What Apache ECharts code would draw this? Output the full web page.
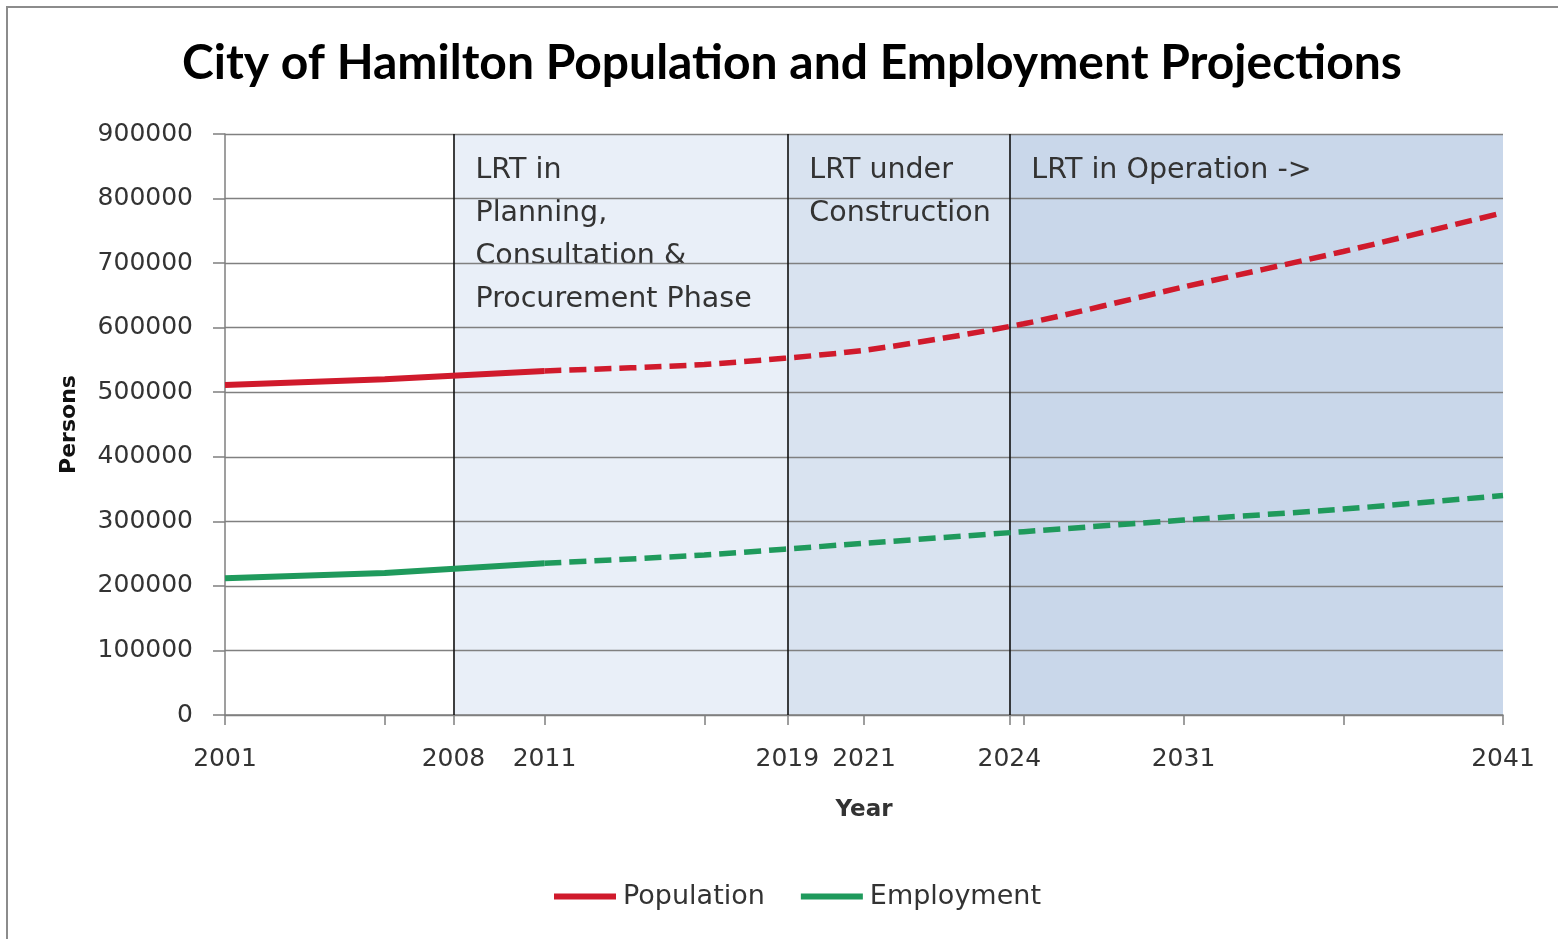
<!DOCTYPE html>
<html>
<head>
<meta charset="utf-8">
<script src="https://cdn.jsdelivr.net/npm/echarts@6/dist/echarts.min.js"></script>
<style>
  html, body { margin: 0; padding: 0; background: #ffffff; }
  #chart { width: 1558px; height: 939px; }
</style>
</head>
<body>
<div id="chart"></div>
<script>
// ---- data ----
const years = [2001, 2006, 2011, 2016, 2021, 2026, 2031, 2036, 2041];
const population = [511000, 520000, 533000, 543000, 565000, 606000, 663000, 718000, 778000];
const employment = [212000, 220000, 235000, 248000, 266000, 284000, 302000, 319000, 340000];
const lastActualYear = 2011;

// axis ticks
const tickYears = [2001, 2006, 2011, 2016, 2021, 2026, 2031, 2036, 2041];
const labelYears = [2001, 2011, 2021, 2031, 2041];
const yMin = 0, yMax = 900000, yStep = 100000;

// LRT phase boundaries (label text, and where the boundary is drawn on the year scale)
const phaseLabels = ['2008', '2019', '2024'];
const phasePositions = [2008.15, 2018.6, 2025.55];
const phaseTexts = [
  'LRT in\nPlanning,\nConsultation &\nProcurement Phase',
  'LRT under\nConstruction',
  'LRT in Operation ->'
];
const phaseColors = ['#e9eff8', '#d9e3f0', '#c9d7ea'];

// ---- build ----
const pts = (vals) => years.map((y, i) => [y, vals[i]]);
const actual = (vals) => pts(vals).filter(p => p[0] <= lastActualYear);
const projected = (vals) => pts(vals).filter(p => p[0] >= lastActualYear);

const axisLabelValues = labelYears.concat(phasePositions).sort((a, b) => a - b);
const labelText = (v) => {
  const k = phasePositions.indexOf(v);
  return k >= 0 ? phaseLabels[k] : String(v);
};

const bandEnds = phasePositions.concat([2041]);
const markAreaData = phaseTexts.map((t, i) => [
  { xAxis: bandEnds[i], itemStyle: { color: phaseColors[i] },
    label: { formatter: t } },
  { xAxis: bandEnds[i + 1] }
]);

const RED = '#d01a2c';
const GREEN = '#1f9a5c';
const FONT = 'DejaVu Sans';

const chart = echarts.init(document.getElementById('chart'));
chart.setOption({
  backgroundColor: '#ffffff',
  animation: false,
  title: {
    text: 'City of Hamilton Population and Employment Projections',
    left: 177, top: 35,
    textStyle: { fontFamily: 'Lato', fontWeight: 'bold', fontSize: 48, color: '#000' }
  },
  graphic: [{
    type: 'rect', silent: true, z: 100,
    shape: { x: 7, y: 7, width: 1700, height: 1100 },
    style: { fill: 'none', stroke: '#8c8c8c', lineWidth: 2 }
  }],
  legend: {
    data: [{ name: 'Population', icon: 'rect' }, { name: 'Employment', icon: 'rect' }],
    top: 878, left: 549,
    itemWidth: 62, itemHeight: 6, itemGap: 36,
    textStyle: { fontFamily: FONT, fontSize: 27, color: '#333', padding: [0, 0, 0, 2] }
  },
  grid: { left: 225, right: 55, top: 134, bottom: 224, containLabel: false },
  xAxis: {
    type: 'value', min: 2001, max: 2041, z: 3,
    name: 'Year', nameLocation: 'middle', nameGap: 84,
    nameTextStyle: { fontFamily: FONT, fontWeight: 'bold', fontSize: 23, color: '#333' },
    axisLine: { show: true, lineStyle: { color: '#7f7f7f', width: 1.5 } },
    axisTick: { show: true, customValues: tickYears.concat(phasePositions), length: 10,
                lineStyle: { color: '#7f7f7f', width: 1.5 } },
    axisLabel: { customValues: axisLabelValues, formatter: labelText, margin: 32,
                 fontFamily: FONT, fontSize: 25, color: '#333' },
    splitLine: { show: false }
  },
  yAxis: {
    type: 'value', min: yMin, max: yMax, interval: yStep, z: 3,
    name: 'Persons', nameLocation: 'middle', nameGap: 145,
    nameTextStyle: { fontFamily: FONT, fontWeight: 'bold', fontSize: 22, color: '#111' },
    axisLine: { show: true, lineStyle: { color: '#7f7f7f', width: 1.5 } },
    axisTick: { show: true, length: 12, lineStyle: { color: '#7f7f7f', width: 1.5 } },
    axisLabel: { margin: 32, fontFamily: FONT, fontSize: 25, color: '#333',
                 formatter: (v) => String(v) },
    splitLine: { show: true, lineStyle: { color: '#808080', width: 1.3 } }
  },
  series: [
    {
      name: 'bands', type: 'line', data: [], z: 1, silent: true,
      markArea: {
        silent: true,
        label: { show: true, position: 'insideTopLeft', distance: 0, offset: [22, 15],
                 fontFamily: FONT, fontSize: 28.5, lineHeight: 43, color: '#333' },
        data: markAreaData
      }
    },
    {
      name: 'boundaries', type: 'line', data: [], z: 4, silent: true,
      markLine: {
        silent: true, symbol: 'none', label: { show: false },
        lineStyle: { color: '#111', width: 1.6, type: 'solid' },
        data: phasePositions.map(p => ({ xAxis: p }))
      }
    },
    {
      name: 'Population', type: 'line', color: RED, z: 5,
      data: actual(population), showSymbol: false,
      lineStyle: { color: RED, width: 6 }
    },
    {
      name: 'Population projected', type: 'line', color: RED, z: 5,
      data: projected(population), showSymbol: false, smooth: 0.25,
      lineStyle: { color: RED, width: 5.5, type: [17, 8] }
    },
    {
      name: 'Employment', type: 'line', color: GREEN, z: 5,
      data: actual(employment), showSymbol: false,
      lineStyle: { color: GREEN, width: 6 }
    },
    {
      name: 'Employment projected', type: 'line', color: GREEN, z: 5,
      data: projected(employment), showSymbol: false, smooth: 0.25,
      lineStyle: { color: GREEN, width: 5.5, type: [17, 8] }
    }
  ]
});
</script>
</body>
</html>
